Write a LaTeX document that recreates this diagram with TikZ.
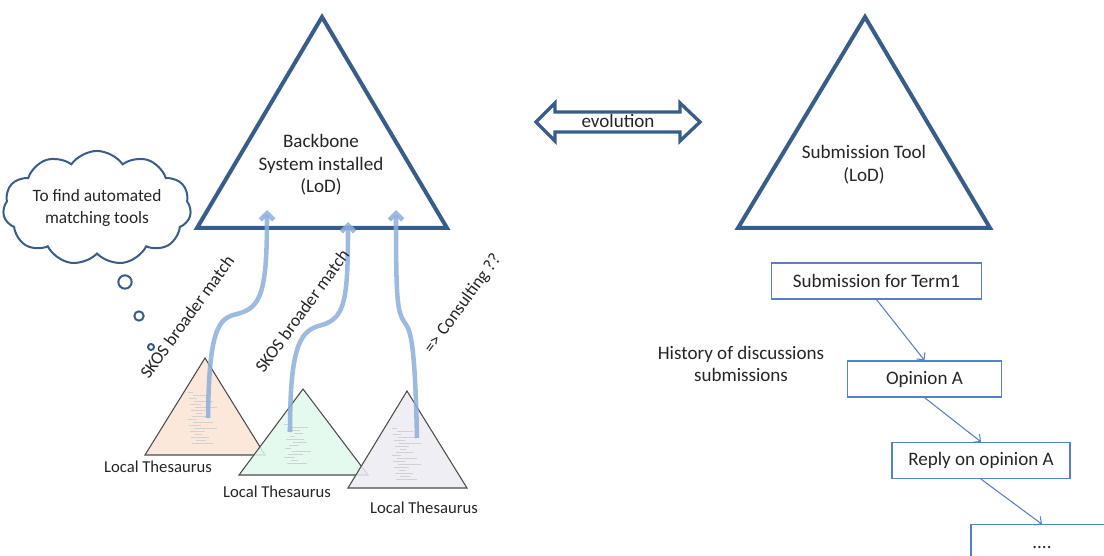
\documentclass[tikz,border=0pt]{standalone}
\usepackage{fontspec}
\setmainfont{Carlito}
\usetikzlibrary{positioning,shapes.symbols,arrows.meta}

\definecolor{lodblue}{RGB}{56,93,138}
\definecolor{linkblue}{RGB}{140,174,218}
\definecolor{boxblue}{RGB}{84,130,196}
\definecolor{thesorange}{RGB}{251,228,212}
\definecolor{thesgreen}{RGB}{224,249,236}
\definecolor{thesgray}{RGB}{236,235,242}
\definecolor{inktext}{RGB}{38,38,38}

\tikzset{
  lodtri/.style={draw=lodblue, line width=3pt, line join=miter},
  thestri/.style={draw=black!70, line width=0.8pt, fill opacity=0.85},
  scribble/.style={draw=black!18, line width=0.45pt},
  match/.style={draw=linkblue, line width=3.4pt, draw opacity=0.85,
    -{Straight Barb[length=5pt,width=10pt]}},
  maintext/.style={font=\fontsize{14.3}{17}\selectfont, text=inktext, align=center},
  thestext/.style={font=\fontsize{12.5}{15}\selectfont, text=inktext},
  matchtext/.style={font=\fontsize{13.3}{16}\selectfont, text=inktext, rotate=54},
  subbox/.style={draw=boxblue, line width=0.9pt, minimum height=27pt,
    font=\fontsize{14.3}{17}\selectfont, text=inktext},
  flow/.style={draw=boxblue, line width=0.8pt, -{Straight Barb[length=4pt,width=8pt]}},
  thought/.style={circle, draw=lodblue, line width=1.5pt, inner sep=0pt},
}

\begin{document}
\begin{tikzpicture}[x=0.75pt, y=-0.75pt]
\useasboundingbox (0,0) rectangle (1104,556);

% the two LoD systems
\draw[lodtri] (322,17) -- (447,228) -- (197,228) -- cycle;
\node[maintext] (backbone) at (321,165) {Backbone\\System installed\\(LoD)};
\draw[lodtri] (865,17) -- (990,228) -- (738,228) -- cycle;
\node[maintext] (subtool) at (864,165) {Submission Tool\\(LoD)};

% evolution
\draw[draw=lodblue, line width=2.5pt, fill=white, line join=miter]
  (536,122) -- (555,103) -- (555,112) -- (680,112) -- (680,103) -- (700,122)
  -- (680,141) -- (680,132) -- (555,132) -- (555,141) -- cycle;
\node[maintext] (evo) at (618,121) {evolution};

% idea cloud
\node[cloud, draw=lodblue, line width=1.5pt, cloud puffs=11, cloud puff arc=110,
  aspect=2, minimum width=124pt, minimum height=62pt, inner sep=0pt, align=center,
  font=\fontsize{13}{16}\selectfont, text=inktext] (idea) at (97,208)
  {To find automated\\matching tools};
\foreach \x/\y/\d [count=\i] in {125/282/10pt, 139/316/7pt, 151/347/4.5pt}
  \node[thought, minimum size=\d] (bubble\i) at (\x,\y) {};

% local thesauri
\draw[thestri, fill=thesorange] (205,358) -- (265,455) -- (145,455) -- cycle;
\foreach \k in {0,...,17}
  \draw[scribble] ({188+mod(\k*5,9)},{392+3*\k}) -- ++({5+mod(\k*11,19)},0);
\draw[thestri, fill=thesgreen] (303,389) -- (368,475) -- (239,475) -- cycle;
\foreach \k in {0,...,13}
  \draw[scribble] ({284+mod(\k*7,11)},{424+3*\k}) -- ++({4+mod(\k*13,17)},0);
\draw[thestri, fill=thesgray] (407,391) -- (467,488) -- (348,488) -- cycle;
\foreach \k in {0,...,17}
  \draw[scribble] ({392+mod(\k*5,9)},{428+3*\k}) -- ++({5+mod(\k*11,19)},0);

\node[thestext] (thes1) at (158,467) {Local Thesaurus};
\node[thestext] (thes2) at (277,492) {Local Thesaurus};
\node[thestext] (thes3) at (424,508) {Local Thesaurus};

% links to the backbone
\coordinate (from1) at (208,418);
\coordinate (from2) at (290,432);
\coordinate (from3) at (417,438);
\coordinate (to1) at (267,210);
\coordinate (to2) at (348,222);
\coordinate (to3) at (396,210);
\draw[match] (from1) .. controls (209,330) and (218,318) .. (237,314)
  .. controls (262,308) and (267,290) .. (to1);
\draw[match] (from2) .. controls (290,345) and (300,330) .. (322,325)
  .. controls (345,318) and (348,300) .. (to2);
\draw[match] (from3) .. controls (415,345) and (411,331) .. (405,323)
  .. controls (397,312) and (396,300) .. (to3);

\node[matchtext] (skos1) at (187,317) {SKOS broader match};
\node[matchtext] (skos2) at (302,311) {SKOS broader match};
\node[matchtext] (consult) at (463,304) {=> Consulting ??};

% submission history
\node[maintext] (history) at (741,364) {History of discussions\\submissions};
\node[subbox, minimum width=157pt] (term) at (876.5,281) {Submission for Term1};
\node[subbox, minimum width=116pt] (opinion) at (924.5,379) {Opinion A};
\node[subbox, minimum width=133.5pt] (reply) at (981,460.5) {Reply on opinion A};
\node[subbox, minimum width=106.5pt, minimum height=34pt] (more) at (1042,547.5) {....};
\draw[flow] (term.south) -- (opinion.north);
\draw[flow] (opinion.south) -- (reply.north);
\draw[flow] (reply.south) -- (more.north);
\end{tikzpicture}
\end{document}
